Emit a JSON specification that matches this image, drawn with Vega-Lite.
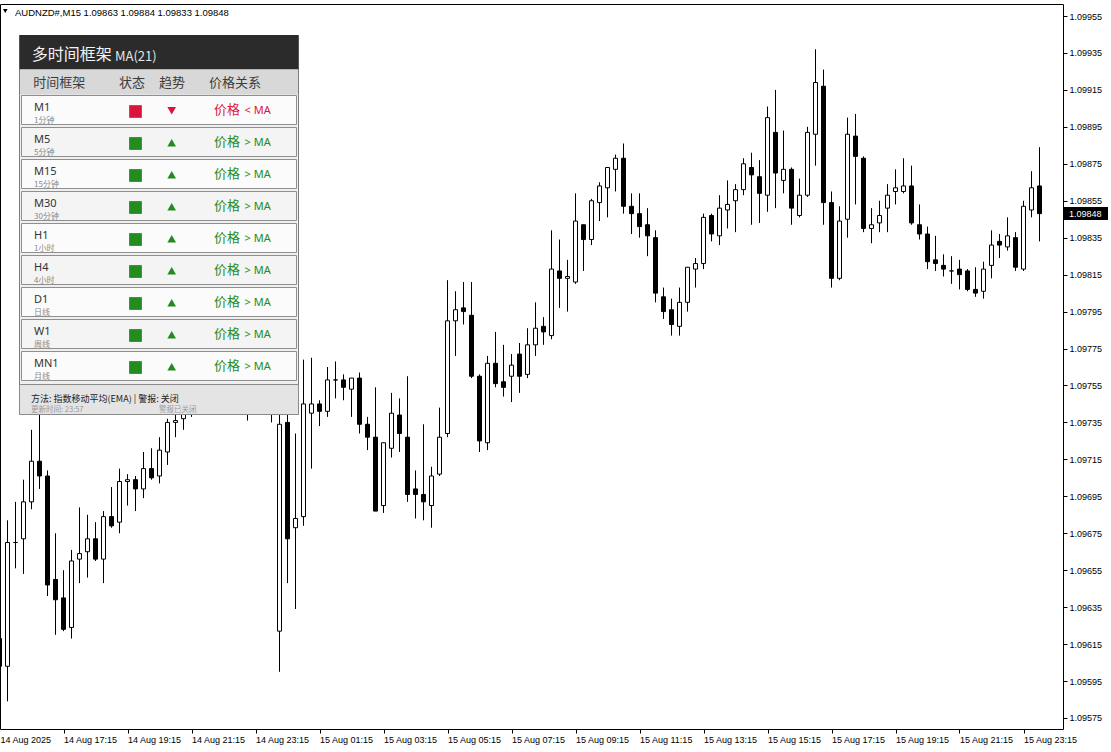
{
  "$schema": "https://vega.github.io/schema/vega-lite/v6.json",
  "width": 1063,
  "height": 725,
  "autosize": {"type": "none"},
  "padding": {"left": 0, "top": 4, "right": 48, "bottom": 23},
  "background": "white",
  "config": {
    "view": {"stroke": "black", "strokeWidth": 1},
    "scale": {"continuousPadding": 0},
    "axis": {"grid": false, "domain": false, "labelFont": "Liberation Sans", "labelFontSize": 9, "labelColor": "#000000", "tickColor": "#000000", "tickSize": 4, "labelPadding": 2}
  },
  "datasets": {
    "candles": [
      {"i":0,"o":1.09618,"h":1.09623,"l":1.09601,"c":1.09603},
      {"i":1,"o":1.09603,"h":1.09682,"l":1.09584,"c":1.09670},
      {"i":2,"o":1.09670,"h":1.09692,"l":1.09656,"c":1.09670},
      {"i":3,"o":1.09672,"h":1.09704,"l":1.09653,"c":1.09692},
      {"i":4,"o":1.09692,"h":1.09731,"l":1.09688,"c":1.09714},
      {"i":5,"o":1.09714,"h":1.09744,"l":1.09699,"c":1.09706},
      {"i":6,"o":1.09706,"h":1.09709,"l":1.09641,"c":1.09647},
      {"i":7,"o":1.09650,"h":1.09675,"l":1.09620,"c":1.09639},
      {"i":8,"o":1.09640,"h":1.09655,"l":1.09622,"c":1.09623},
      {"i":9,"o":1.09624,"h":1.09666,"l":1.09618,"c":1.09660},
      {"i":10,"o":1.09661,"h":1.09689,"l":1.09648,"c":1.09664},
      {"i":11,"o":1.09665,"h":1.09685,"l":1.09651,"c":1.09672},
      {"i":12,"o":1.09672,"h":1.09681,"l":1.09660,"c":1.09661},
      {"i":13,"o":1.09661,"h":1.09687,"l":1.09648,"c":1.09684},
      {"i":14,"o":1.09684,"h":1.09700,"l":1.09678,"c":1.09679},
      {"i":15,"o":1.09681,"h":1.09710,"l":1.09675,"c":1.09703},
      {"i":16,"o":1.09703,"h":1.09707,"l":1.09690,"c":1.09704},
      {"i":17,"o":1.09704,"h":1.09706,"l":1.09687,"c":1.09699},
      {"i":18,"o":1.09699,"h":1.09719,"l":1.09694,"c":1.09710},
      {"i":19,"o":1.09710,"h":1.09721,"l":1.09704,"c":1.09705},
      {"i":20,"o":1.09706,"h":1.09727,"l":1.09702,"c":1.09720},
      {"i":21,"o":1.09719,"h":1.09737,"l":1.09712,"c":1.09735},
      {"i":22,"o":1.09735,"h":1.09742,"l":1.09727,"c":1.09736},
      {"i":23,"o":1.09737,"h":1.09748,"l":1.09731,"c":1.09744},
      {"i":24,"o":1.09744,"h":1.09752,"l":1.09738,"c":1.09749},
      {"i":25,"o":1.09749,"h":1.09758,"l":1.09742,"c":1.09754},
      {"i":26,"o":1.09754,"h":1.09760,"l":1.09744,"c":1.09747},
      {"i":27,"o":1.09747,"h":1.09756,"l":1.09742,"c":1.09752},
      {"i":28,"o":1.09752,"h":1.09763,"l":1.09748,"c":1.09760},
      {"i":29,"o":1.09760,"h":1.09766,"l":1.09750,"c":1.09753},
      {"i":30,"o":1.09753,"h":1.09758,"l":1.09744,"c":1.09746},
      {"i":31,"o":1.09746,"h":1.09752,"l":1.09736,"c":1.09741},
      {"i":32,"o":1.09741,"h":1.09750,"l":1.09740,"c":1.09748},
      {"i":33,"o":1.09748,"h":1.09755,"l":1.09742,"c":1.09745},
      {"i":34,"o":1.09745,"h":1.09751,"l":1.09735,"c":1.09742},
      {"i":35,"o":1.09622,"h":1.09743,"l":1.09600,"c":1.09734},
      {"i":36,"o":1.09735,"h":1.09744,"l":1.09648,"c":1.09672},
      {"i":37,"o":1.09678,"h":1.09729,"l":1.09634,"c":1.09683},
      {"i":38,"o":1.09684,"h":1.09769,"l":1.09679,"c":1.09745},
      {"i":39,"o":1.09740,"h":1.09770,"l":1.09710,"c":1.09745},
      {"i":40,"o":1.09745,"h":1.09747,"l":1.09733,"c":1.09741},
      {"i":41,"o":1.09741,"h":1.09765,"l":1.09738,"c":1.09758},
      {"i":42,"o":1.09758,"h":1.09768,"l":1.09748,"c":1.09758},
      {"i":43,"o":1.09758,"h":1.09761,"l":1.09747,"c":1.09754},
      {"i":44,"o":1.09753,"h":1.09759,"l":1.09738,"c":1.09759},
      {"i":45,"o":1.09759,"h":1.09762,"l":1.09729,"c":1.09734},
      {"i":46,"o":1.09734,"h":1.09738,"l":1.09720,"c":1.09727},
      {"i":47,"o":1.09727,"h":1.09754,"l":1.09687,"c":1.09687},
      {"i":48,"o":1.09690,"h":1.09724,"l":1.09686,"c":1.09724},
      {"i":49,"o":1.09721,"h":1.09751,"l":1.09716,"c":1.09740},
      {"i":50,"o":1.09739,"h":1.09748,"l":1.09719,"c":1.09729},
      {"i":51,"o":1.09727,"h":1.09760,"l":1.09692,"c":1.09696},
      {"i":52,"o":1.09699,"h":1.09709,"l":1.09683,"c":1.09696},
      {"i":53,"o":1.09696,"h":1.09734,"l":1.09682,"c":1.09692},
      {"i":54,"o":1.09690,"h":1.09711,"l":1.09678,"c":1.09706},
      {"i":55,"o":1.09707,"h":1.09743,"l":1.09706,"c":1.09727},
      {"i":56,"o":1.09729,"h":1.09812,"l":1.09727,"c":1.09790},
      {"i":57,"o":1.09790,"h":1.09806,"l":1.09771,"c":1.09796},
      {"i":58,"o":1.09797,"h":1.09811,"l":1.09788,"c":1.09795},
      {"i":59,"o":1.09793,"h":1.09811,"l":1.09759,"c":1.09760},
      {"i":60,"o":1.09760,"h":1.09761,"l":1.09719,"c":1.09725},
      {"i":61,"o":1.09724,"h":1.09771,"l":1.09720,"c":1.09767},
      {"i":62,"o":1.09767,"h":1.09784,"l":1.09754,"c":1.09756},
      {"i":63,"o":1.09757,"h":1.09777,"l":1.09749,"c":1.09754},
      {"i":64,"o":1.09760,"h":1.09772,"l":1.09746,"c":1.09766},
      {"i":65,"o":1.09772,"h":1.09778,"l":1.09751,"c":1.09760},
      {"i":66,"o":1.09761,"h":1.09786,"l":1.09759,"c":1.09777},
      {"i":67,"o":1.09777,"h":1.09800,"l":1.09771,"c":1.09786},
      {"i":68,"o":1.09787,"h":1.09792,"l":1.09777,"c":1.09784},
      {"i":69,"o":1.09782,"h":1.09839,"l":1.09780,"c":1.09818},
      {"i":70,"o":1.09817,"h":1.09834,"l":1.09797,"c":1.09813},
      {"i":71,"o":1.09813,"h":1.09823,"l":1.09795,"c":1.09814},
      {"i":72,"o":1.09811,"h":1.09859,"l":1.09810,"c":1.09844},
      {"i":73,"o":1.09842,"h":1.09842,"l":1.09817,"c":1.09834},
      {"i":74,"o":1.09834,"h":1.09856,"l":1.09831,"c":1.09855},
      {"i":75,"o":1.09854,"h":1.09865,"l":1.09844,"c":1.09863},
      {"i":76,"o":1.09862,"h":1.09873,"l":1.09846,"c":1.09873},
      {"i":77,"o":1.09872,"h":1.09880,"l":1.09860,"c":1.09878},
      {"i":78,"o":1.09878,"h":1.09886,"l":1.09848,"c":1.09852},
      {"i":79,"o":1.09852,"h":1.09859,"l":1.09837,"c":1.09848},
      {"i":80,"o":1.09848,"h":1.09859,"l":1.09835,"c":1.09841},
      {"i":81,"o":1.09842,"h":1.09851,"l":1.09825,"c":1.09836},
      {"i":82,"o":1.09835,"h":1.09839,"l":1.09800,"c":1.09805},
      {"i":83,"o":1.09803,"h":1.09808,"l":1.09791,"c":1.09795},
      {"i":84,"o":1.09796,"h":1.09802,"l":1.09782,"c":1.09788},
      {"i":85,"o":1.09787,"h":1.09808,"l":1.09782,"c":1.09800},
      {"i":86,"o":1.09800,"h":1.09819,"l":1.09795,"c":1.09819},
      {"i":87,"o":1.09818,"h":1.09824,"l":1.09808,"c":1.09821},
      {"i":88,"o":1.09821,"h":1.09848,"l":1.09818,"c":1.09846},
      {"i":89,"o":1.09847,"h":1.09848,"l":1.09833,"c":1.09837},
      {"i":90,"o":1.09836,"h":1.09858,"l":1.09831,"c":1.09851},
      {"i":91,"o":1.09850,"h":1.09866,"l":1.09840,"c":1.09853},
      {"i":92,"o":1.09855,"h":1.09864,"l":1.09838,"c":1.09861},
      {"i":93,"o":1.09861,"h":1.09878,"l":1.09858,"c":1.09875},
      {"i":94,"o":1.09873,"h":1.09881,"l":1.09842,"c":1.09869},
      {"i":95,"o":1.09868,"h":1.09877,"l":1.09843,"c":1.09859},
      {"i":96,"o":1.09858,"h":1.09906,"l":1.09849,"c":1.09900},
      {"i":97,"o":1.09892,"h":1.09915,"l":1.09851,"c":1.09870},
      {"i":98,"o":1.09866,"h":1.09893,"l":1.09859,"c":1.09872},
      {"i":99,"o":1.09872,"h":1.09873,"l":1.09842,"c":1.09851},
      {"i":100,"o":1.09847,"h":1.09867,"l":1.09846,"c":1.09858},
      {"i":101,"o":1.09858,"h":1.09895,"l":1.09857,"c":1.09892},
      {"i":102,"o":1.09891,"h":1.09937,"l":1.09874,"c":1.09919},
      {"i":103,"o":1.09917,"h":1.09926,"l":1.09842,"c":1.09854},
      {"i":104,"o":1.09854,"h":1.09860,"l":1.09808,"c":1.09813},
      {"i":105,"o":1.09813,"h":1.09852,"l":1.09812,"c":1.09844},
      {"i":106,"o":1.09845,"h":1.09900,"l":1.09835,"c":1.09891},
      {"i":107,"o":1.09890,"h":1.09902,"l":1.09853,"c":1.09879},
      {"i":108,"o":1.09878,"h":1.09879,"l":1.09838,"c":1.09840},
      {"i":109,"o":1.09840,"h":1.09851,"l":1.09832,"c":1.09842},
      {"i":110,"o":1.09843,"h":1.09855,"l":1.09838,"c":1.09847},
      {"i":111,"o":1.09851,"h":1.09864,"l":1.09838,"c":1.09858},
      {"i":112,"o":1.09860,"h":1.09872,"l":1.09853,"c":1.09862},
      {"i":113,"o":1.09860,"h":1.09878,"l":1.09859,"c":1.09863},
      {"i":114,"o":1.09863,"h":1.09874,"l":1.09842,"c":1.09843},
      {"i":115,"o":1.09842,"h":1.09853,"l":1.09834,"c":1.09837},
      {"i":116,"o":1.09837,"h":1.09841,"l":1.09818,"c":1.09822},
      {"i":117,"o":1.09823,"h":1.09836,"l":1.09817,"c":1.09821},
      {"i":118,"o":1.09820,"h":1.09826,"l":1.09814,"c":1.09818},
      {"i":119,"o":1.09817,"h":1.09825,"l":1.09810,"c":1.09817},
      {"i":120,"o":1.09818,"h":1.09823,"l":1.09807,"c":1.09815},
      {"i":121,"o":1.09817,"h":1.09818,"l":1.09806,"c":1.09807},
      {"i":122,"o":1.09807,"h":1.09819,"l":1.09803,"c":1.09805},
      {"i":123,"o":1.09806,"h":1.09822,"l":1.09802,"c":1.09818},
      {"i":124,"o":1.09820,"h":1.09839,"l":1.09813,"c":1.09831},
      {"i":125,"o":1.09833,"h":1.09837,"l":1.09824,"c":1.09831},
      {"i":126,"o":1.09830,"h":1.09846,"l":1.09828,"c":1.09836},
      {"i":127,"o":1.09835,"h":1.09838,"l":1.09817,"c":1.09819},
      {"i":128,"o":1.09818,"h":1.09855,"l":1.09817,"c":1.09852},
      {"i":129,"o":1.09850,"h":1.09871,"l":1.09846,"c":1.09862},
      {"i":130,"o":1.09863,"h":1.09884,"l":1.09833,"c":1.09848}
    ],
    "last": [{"symbol": "AUDNZD#,M15", "o": 1.09863, "h": 1.09884, "l": 1.09833, "c": 1.09848}],
    "timeframes": [
      {"tf": "M1", "sub": "1分钟", "up": false, "rel": "< MA"},
      {"tf": "M5", "sub": "5分钟", "up": true, "rel": "> MA"},
      {"tf": "M15", "sub": "15分钟", "up": true, "rel": "> MA"},
      {"tf": "M30", "sub": "30分钟", "up": true, "rel": "> MA"},
      {"tf": "H1", "sub": "1小时", "up": true, "rel": "> MA"},
      {"tf": "H4", "sub": "4小时", "up": true, "rel": "> MA"},
      {"tf": "D1", "sub": "日线", "up": true, "rel": "> MA"},
      {"tf": "W1", "sub": "周线", "up": true, "rel": "> MA"},
      {"tf": "MN1", "sub": "月线", "up": true, "rel": "> MA"}
    ]
  },
  "resolve": {"scale": {"x": "independent", "y": "independent"}, "axis": {"x": "independent", "y": "independent"}},
  "layer": [
    {
      "data": {"name": "candles"},
      "mark": {"type": "rule", "clip": true, "color": "#000000", "strokeWidth": 1},
      "encoding": {
        "x": {"field": "i", "type": "quantitative",
          "scale": {"domain": [0.0625, 132.9375], "nice": false, "zero": false, "padding": 0},
          "axis": {"orient": "bottom", "zindex": 1, "values": [0.0625, 8, 16, 24, 32, 40, 48, 56, 64, 72, 80, 88, 96, 104, 112, 120, 128],
            "labelExpr": "datum.value < 1 ? '14 Aug 2025' : timeFormat(datetime(2025, 7, 14, 15, 15 + 15 * datum.value), '%d %b %H:%M')",
            "tickOpacity": {"expr": "datum.value < 1 ? 0 : 1"},
            "labelAlign": "left", "labelBaseline": "top", "labelOverlap": false, "title": null}},
        "y": {"field": "l", "type": "quantitative",
          "scale": {"domain": [1.0956904, 1.099615], "nice": false, "zero": false, "padding": 0},
          "axis": {"orient": "right", "zindex": 1, "values": [1.09575, 1.09595, 1.09615, 1.09635, 1.09655, 1.09675, 1.09695, 1.09715, 1.09735, 1.09755, 1.09775, 1.09795, 1.09815, 1.09835, 1.09855, 1.09875, 1.09895, 1.09915, 1.09935, 1.09955],
            "format": ".5f", "labelBaseline": "middle", "labelOverlap": false, "title": null}},
        "y2": {"field": "h"}
      }
    },
    {
      "data": {"name": "candles"},
      "mark": {"type": "bar", "clip": true, "size": 4, "stroke": "#000000", "strokeWidth": 1},
      "encoding": {
        "x": {"field": "i", "type": "quantitative", "scale": {"domain": [0.0625, 132.9375], "nice": false, "zero": false, "padding": 0}, "axis": null},
        "y": {"field": "o", "type": "quantitative", "scale": {"domain": [1.0956904, 1.099615], "nice": false, "zero": false, "padding": 0}, "axis": null},
        "y2": {"field": "c"},
        "fill": {"condition": {"test": "datum.c < datum.o", "value": "#000000"}, "value": "#ffffff"}
      }
    },
    {
      "data": {"name": "last"},
      "mark": {"type": "rect", "color": "#000000"},
      "encoding": {
        "x": {"datum": 133.0625, "type": "quantitative", "scale": {"domain": [0.0625, 132.9375], "nice": false, "zero": false, "padding": 0}, "axis": null},
        "x2": {"datum": 138.5625},
        "y": {"datum": 1.0985161, "type": "quantitative", "scale": {"domain": [1.0956904, 1.099615], "nice": false, "zero": false, "padding": 0}, "axis": null},
        "y2": {"datum": 1.0984457}
      }
    },
    {
      "data": {"name": "last"},
      "mark": {"type": "text", "align": "left", "baseline": "middle", "font": "Liberation Sans", "fontSize": 9, "color": "#ffffff"},
      "encoding": {
        "x": {"datum": 133.6875, "type": "quantitative", "scale": {"domain": [0.0625, 132.9375], "nice": false, "zero": false, "padding": 0}, "axis": null},
        "y": {"field": "c", "type": "quantitative", "scale": {"domain": [1.0956904, 1.099615], "nice": false, "zero": false, "padding": 0}, "axis": null},
        "text": {"field": "c", "type": "quantitative", "format": ".5f"}
      }
    },
    {
      "data": {"name": "last"},
      "mark": {"type": "text", "align": "left", "baseline": "alphabetic", "font": "Liberation Sans", "fontSize": 9.5, "color": "#000000"},
      "encoding": {
        "x": {"datum": 1.9375, "type": "quantitative", "scale": {"domain": [0.0625, 132.9375], "nice": false, "zero": false, "padding": 0}, "axis": null},
        "y": {"datum": 1.09955, "type": "quantitative", "scale": {"domain": [1.0956904, 1.099615], "nice": false, "zero": false, "padding": 0}, "axis": null},
        "text": {"value": "AUDNZD#,M15  1.09863 1.09884 1.09833 1.09848"}
      }
    },
    {
      "data": {"name": "last"},
      "mark": {"type": "point", "shape": "triangle-down", "filled": true, "size": 22, "color": "#000000", "strokeWidth": 0, "opacity": 1},
      "encoding": {
        "x": {"datum": 0.725, "type": "quantitative", "scale": {"domain": [0.0625, 132.9375], "nice": false, "zero": false, "padding": 0}, "axis": null},
        "y": {"datum": 1.099577, "type": "quantitative", "scale": {"domain": [1.0956904, 1.099615], "nice": false, "zero": false, "padding": 0}, "axis": null}
      }
    },
    {
      "data": {"values": [{}]},
      "layer": [
        {
          "mark": {"type": "rect", "fill": "#efefef", "stroke": "#7c7c7c", "strokeWidth": 1},
          "encoding": {
            "x": {"datum": 0, "type": "quantitative", "scale": {"domain": [0, 279], "range": [19.5, 298.5], "nice": false, "zero": false, "padding": 0}, "axis": null},
            "x2": {"datum": 279},
            "y": {"datum": 0, "type": "quantitative", "scale": {"domain": [0, 379], "range": [31.5, 410.5], "nice": false, "zero": false, "padding": 0}, "axis": null},
            "y2": {"datum": 379}
          }
        },
        {
          "mark": {"type": "rect", "fill": "#2b2b2b"},
          "encoding": {
            "x": {"datum": 0, "type": "quantitative", "axis": null},
            "x2": {"datum": 279},
            "y": {"datum": -0.5, "type": "quantitative", "axis": null},
            "y2": {"datum": 34}
          }
        },
        {
          "mark": {"type": "rect", "fill": "#d8d8d8"},
          "encoding": {
            "x": {"datum": 0.5, "type": "quantitative", "axis": null},
            "x2": {"datum": 278.5},
            "y": {"datum": 34, "type": "quantitative", "axis": null},
            "y2": {"datum": 59}
          }
        },
        {
          "mark": {"type": "rect", "fill": "#e4e4e4", "stroke": "#8a8a8a", "strokeWidth": 1},
          "encoding": {
            "x": {"datum": 0, "type": "quantitative", "axis": null},
            "x2": {"datum": 279},
            "y": {"datum": 349, "type": "quantitative", "axis": null},
            "y2": {"datum": 379}
          }
        },
        {
          "mark": {"type": "text", "align": "left", "baseline": "alphabetic", "font": "Noto Sans CJK SC", "fontSize": 16, "color": "#f2f2f2"},
          "encoding": {
            "x": {"datum": 12.2, "type": "quantitative", "axis": null},
            "y": {"datum": 24, "type": "quantitative", "axis": null},
            "text": {"value": "多时间框架"}
          }
        },
        {
          "mark": {"type": "text", "align": "left", "baseline": "alphabetic", "font": "Noto Sans CJK SC", "fontSize": 13, "color": "#e6e6e6"},
          "encoding": {
            "x": {"datum": 95.5, "type": "quantitative", "axis": null},
            "y": {"datum": 25, "type": "quantitative", "axis": null},
            "text": {"value": "MA(21)"}
          }
        },
        {
          "mark": {"type": "text", "align": "left", "baseline": "alphabetic", "font": "Noto Sans CJK SC", "fontSize": 13, "color": "#3c3c3c"},
          "encoding": {
            "x": {"datum": 13.8, "type": "quantitative", "axis": null},
            "y": {"datum": 51.5, "type": "quantitative", "axis": null},
            "text": {"value": "时间框架"}
          }
        },
        {
          "mark": {"type": "text", "align": "left", "baseline": "alphabetic", "font": "Noto Sans CJK SC", "fontSize": 13, "color": "#3c3c3c"},
          "encoding": {
            "x": {"datum": 99.5, "type": "quantitative", "axis": null},
            "y": {"datum": 51.5, "type": "quantitative", "axis": null},
            "text": {"value": "状态"}
          }
        },
        {
          "mark": {"type": "text", "align": "left", "baseline": "alphabetic", "font": "Noto Sans CJK SC", "fontSize": 13, "color": "#3c3c3c"},
          "encoding": {
            "x": {"datum": 139.5, "type": "quantitative", "axis": null},
            "y": {"datum": 51.5, "type": "quantitative", "axis": null},
            "text": {"value": "趋势"}
          }
        },
        {
          "mark": {"type": "text", "align": "left", "baseline": "alphabetic", "font": "Noto Sans CJK SC", "fontSize": 13, "color": "#3c3c3c"},
          "encoding": {
            "x": {"datum": 189.5, "type": "quantitative", "axis": null},
            "y": {"datum": 51.5, "type": "quantitative", "axis": null},
            "text": {"value": "价格关系"}
          }
        },
        {
          "mark": {"type": "text", "align": "left", "baseline": "alphabetic", "font": "Noto Sans CJK SC", "fontSize": 9, "color": "#222222"},
          "encoding": {
            "x": {"datum": 11.5, "type": "quantitative", "axis": null},
            "y": {"datum": 366.5, "type": "quantitative", "axis": null},
            "text": {"value": "方法: 指数移动平均(EMA) | 警报: 关闭"}
          }
        },
        {
          "mark": {"type": "text", "align": "left", "baseline": "alphabetic", "font": "Noto Sans CJK SC", "fontSize": 7.5, "color": "#9a9a9a"},
          "encoding": {
            "x": {"datum": 11.5, "type": "quantitative", "axis": null},
            "y": {"datum": 376.5, "type": "quantitative", "axis": null},
            "text": {"value": "更新时间: 23:57"}
          }
        },
        {
          "mark": {"type": "text", "align": "left", "baseline": "alphabetic", "font": "Noto Sans CJK SC", "fontSize": 7.5, "color": "#9a9a9a"},
          "encoding": {
            "x": {"datum": 139.5, "type": "quantitative", "axis": null},
            "y": {"datum": 376.5, "type": "quantitative", "axis": null},
            "text": {"value": "警报已关闭"}
          }
        }
      ]
    },
    {
      "data": {"name": "timeframes"},
      "layer": [
        {
          "mark": {"type": "rect", "stroke": "#8f8f8f", "strokeWidth": 1},
          "encoding": {
            "x": {"datum": 2, "type": "quantitative", "scale": {"domain": [0, 279], "range": [19.5, 298.5], "nice": false, "zero": false, "padding": 0}, "axis": null},
            "x2": {"datum": 277},
            "y": {"field": "tf", "type": "nominal", "sort": null,
              "scale": {"domain": ["M1", "M5", "M15", "M30", "H1", "H4", "D1", "W1", "MN1"], "range": [90, 378], "paddingInner": 0.09375, "paddingOuter": 0.046875},
              "axis": null},
            "fill": {"condition": {"test": "indexof(['M5','M30','H4','W1'], datum.tf) >= 0", "value": "#f4f4f4"}, "value": "#fbfbfb"}
          }
        },
        {
          "mark": {"type": "text", "align": "left", "baseline": "alphabetic", "font": "Noto Sans", "fontSize": 11, "color": "#333333"},
          "encoding": {
            "x": {"datum": 14.5, "type": "quantitative", "axis": null},
            "y": {"field": "tf", "type": "nominal", "bandPosition": 0.55, "axis": null},
            "text": {"field": "tf"}
          }
        },
        {
          "mark": {"type": "text", "align": "left", "baseline": "alphabetic", "font": "Noto Sans CJK SC", "fontSize": 8, "color": "#8a8a8a"},
          "encoding": {
            "x": {"datum": 14.5, "type": "quantitative", "axis": null},
            "y": {"field": "tf", "type": "nominal", "bandPosition": 0.95, "axis": null},
            "text": {"field": "sub"}
          }
        },
        {
          "mark": {"type": "point", "shape": "square", "filled": true, "size": 144, "stroke": "#707070", "strokeWidth": 1, "opacity": 1},
          "encoding": {
            "x": {"datum": 116, "type": "quantitative", "axis": null},
            "y": {"field": "tf", "type": "nominal", "bandPosition": 0.5517, "axis": null},
            "fill": {"condition": {"test": "datum.up", "value": "#228b22"}, "value": "#dc143c"}
          }
        },
        {
          "mark": {"type": "point", "filled": true, "size": 75, "strokeWidth": 0, "opacity": 1},
          "encoding": {
            "x": {"datum": 152.2, "type": "quantitative", "axis": null},
            "y": {"field": "tf", "type": "nominal", "bandPosition": 0.53, "axis": null},
            "shape": {"condition": {"test": "datum.up", "value": "triangle-up"}, "value": "triangle-down"},
            "fill": {"condition": {"test": "datum.up", "value": "#228b22"}, "value": "#dc143c"}
          }
        },
        {
          "mark": {"type": "text", "align": "left", "baseline": "alphabetic", "font": "Noto Sans CJK SC", "fontSize": 13},
          "encoding": {
            "x": {"datum": 194.5, "type": "quantitative", "axis": null},
            "y": {"field": "tf", "type": "nominal", "bandPosition": 0.63, "axis": null},
            "text": {"value": "价格"},
            "color": {"condition": {"test": "datum.up", "value": "#228b22"}, "value": "#dc143c"}
          }
        },
        {
          "mark": {"type": "text", "align": "left", "baseline": "alphabetic", "font": "Noto Sans", "fontSize": 11},
          "encoding": {
            "x": {"datum": 225, "type": "quantitative", "axis": null},
            "y": {"field": "tf", "type": "nominal", "bandPosition": 0.63, "axis": null},
            "text": {"field": "rel"},
            "color": {"condition": {"test": "datum.up", "value": "#228b22"}, "value": "#dc143c"}
          }
        }
      ]
    }
  ]
}
